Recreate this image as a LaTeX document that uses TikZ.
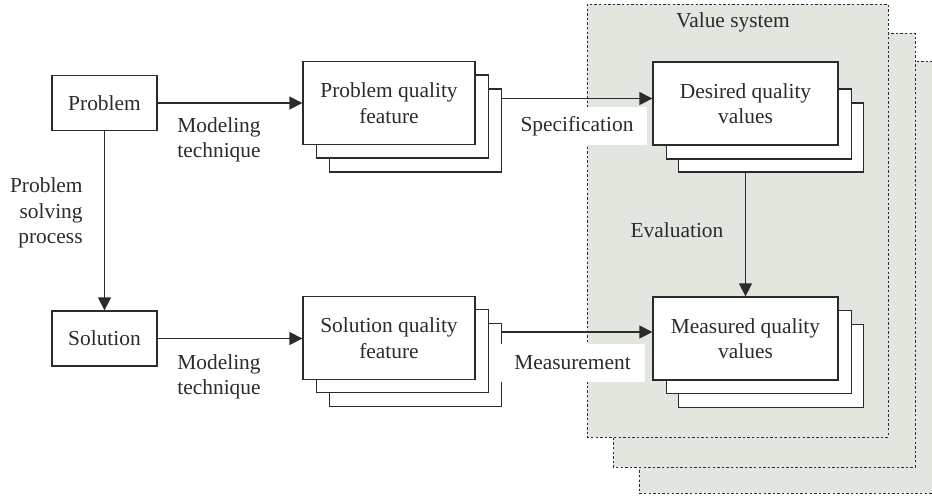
\documentclass[tikz,border=0pt]{standalone}
\usepackage{fontspec}
\setmainfont{Liberation Serif}
\usetikzlibrary{arrows.meta}
\definecolor{vsgreen}{HTML}{E1E6DF}
\definecolor{ink}{HTML}{2B2B2B}
\tikzset{
  box/.style={draw=ink, fill=white, line width=0.65pt, align=center, inner sep=0pt},
  feat/.style={box, minimum width=86pt, minimum height=41.5pt},
  val/.style={box, minimum width=92.5pt, minimum height=41.5pt},
  vsbox/.style={draw=ink, fill=vsgreen, line width=0.5pt, dash pattern=on 1.2pt off 1.1pt},
  arr/.style={-{Triangle[length=6.5pt,width=6.5pt]}, draw=ink, line width=0.65pt},
  lbl/.style={align=center, inner sep=0pt},
  wlbl/.style={fill=white, inner sep=0pt, minimum height=19pt},
}
\begin{document}
\begin{tikzpicture}[x=0.5pt, y=-0.5pt, font=\fontsize{10.7}{12.75}\selectfont, text=ink]
\useasboundingbox (0,0) rectangle (932,495);
% value system
\draw [vsbox] (639,61) rectangle (945,493);
\draw [vsbox] (613,33) rectangle (915,467);
\draw [vsbox] (587,4) rectangle (888,437);
\node (vs) at (733,22) {Value system};

\node [box, minimum width=52.5pt, minimum height=27.5pt] (prob) at (104.5,103) {Problem};
\node [box, minimum width=52.5pt, minimum height=27.5pt] (sol) at (104.5,338.5) {Solution};

\node [feat] (pq3) at (415.5,130.5) {};
\node [feat] (pq2) at (402.5,116.5) {};
\node [feat] (pq) at (389,103) {Problem quality\\feature};
\node [feat] (sq3) at (415.5,365) {};
\node [feat] (sq2) at (402.5,351) {};
\node [feat] (sq) at (389,338) {Solution quality\\feature};

\node [val, minimum height=34.5pt] (dq3) at (771,137.5) {};
\node [val, minimum height=35pt] (dq2) at (759,124) {};
\node [val] (dq) at (745.5,103.5) {Desired quality\\values};
\node [val] (mq3) at (771,366) {};
\node [val] (mq2) at (759,352) {};
\node [val] (mq) at (745.5,338.5) {Measured quality\\values};

\draw [arr] (prob) -- (pq);
\draw [arr] (sol.east) -- (sol.east -| sq.west);
\draw [arr] (prob) -- (sol);
\node [lbl] (mt1) at (219,140) {Modeling\\technique};
\node [lbl] (mt2) at (219,377) {Modeling\\technique};
\node [lbl, align=right, anchor=east] (psp) at (83,213) {Problem\\solving\\process};

\coordinate (spin) at ([yshift=2.5pt]dq.west);
\draw [arr] (pq3.east |- spin) -- (spin);
\node [wlbl, minimum width=70pt] (spec) at (577,126) {Specification};

\coordinate (msin) at ([yshift=3.25pt]mq.west);
\draw [arr] (sq3.east |- msin) -- (msin);
\node [wlbl, minimum width=72.5pt] (meas) at (572.5,363) {Measurement};

\draw [arr] (dq.south |- dq3.south) -- (mq.north);
\node (eval) at (677,230) {Evaluation};
\end{tikzpicture}
\end{document}
